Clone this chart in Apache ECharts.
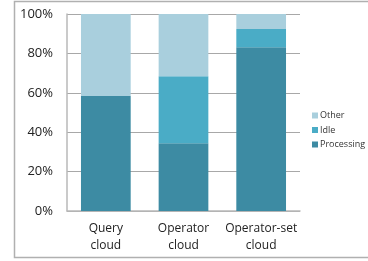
<!DOCTYPE html>
<html>
<head>
<meta charset="utf-8">
<script src="https://cdn.jsdelivr.net/npm/echarts@6/dist/echarts.min.js"></script>
<style>
  html, body { margin: 0; padding: 0; background: #fff; }
  #chart { width: 368px; height: 261px; }
</style>
</head>
<body>
<div id="chart"></div>
<script>
// 分类与数据（百分比）
const categories = ['Query\ncloud', 'Operator\ncloud', 'Operator-set\ncloud'];
const processing = [58.4, 34.4, 83.1];
const idle = [0, 34.0, 9.3];
const other = [41.6, 31.6, 7.6];
const yTicks = [0, 20, 40, 60, 80, 100];

const chart = echarts.init(document.getElementById('chart'));

const barStyle = (color) => ({ color: color });

const option = {
  animation: false,
  textStyle: { fontFamily: 'Open Sans' },
  grid: { left: 67, right: 68, top: 14, bottom: 50 },
  graphic: [{
    type: 'rect',
    shape: { x: 14.5, y: 1.5, width: 360, height: 256 },
    style: { fill: 'none', stroke: '#b0b0b0', lineWidth: 1.5 },
    silent: true
  }],
  legend: {
    orient: 'vertical',
    left: 307,
    top: 106,
    itemWidth: 6,
    itemHeight: 6,
    itemGap: 5.5,
    icon: 'rect',
    textStyle: { fontSize: 9, color: '#333', padding: [0, 0, 0, -3] },
    data: ['Other', 'Idle', 'Processing']
  },
  xAxis: {
    type: 'category',
    data: categories,
    axisLine: { lineStyle: { color: '#b8b8b8', width: 1.5 } },
    axisTick: { show: false },
    axisLabel: { interval: 0, color: '#222', fontSize: 12, lineHeight: 17, margin: 9 }
  },
  yAxis: {
    type: 'value',
    min: 0,
    max: 100,
    interval: 20,
    axisLine: { show: true, lineStyle: { color: '#b8b8b8', width: 1.5 } },
    axisTick: { show: false },
    splitLine: { lineStyle: { color: '#a8a8a8', width: 1 } },
    axisLabel: {
      color: '#222', fontSize: 13, margin: 14,
      formatter: (v) => yTicks.includes(v) ? v + '%' : ''
    }
  },
  series: [
    { name: 'Processing', type: 'bar', stack: 'a', barWidth: '64%', data: processing, itemStyle: barStyle('#3d8ba3') },
    { name: 'Idle', type: 'bar', stack: 'a', data: idle, itemStyle: barStyle('#4aacc6') },
    { name: 'Other', type: 'bar', stack: 'a', data: other, itemStyle: barStyle('#a9cfdd') }
  ]
};

chart.setOption(option);
</script>
</body>
</html>
